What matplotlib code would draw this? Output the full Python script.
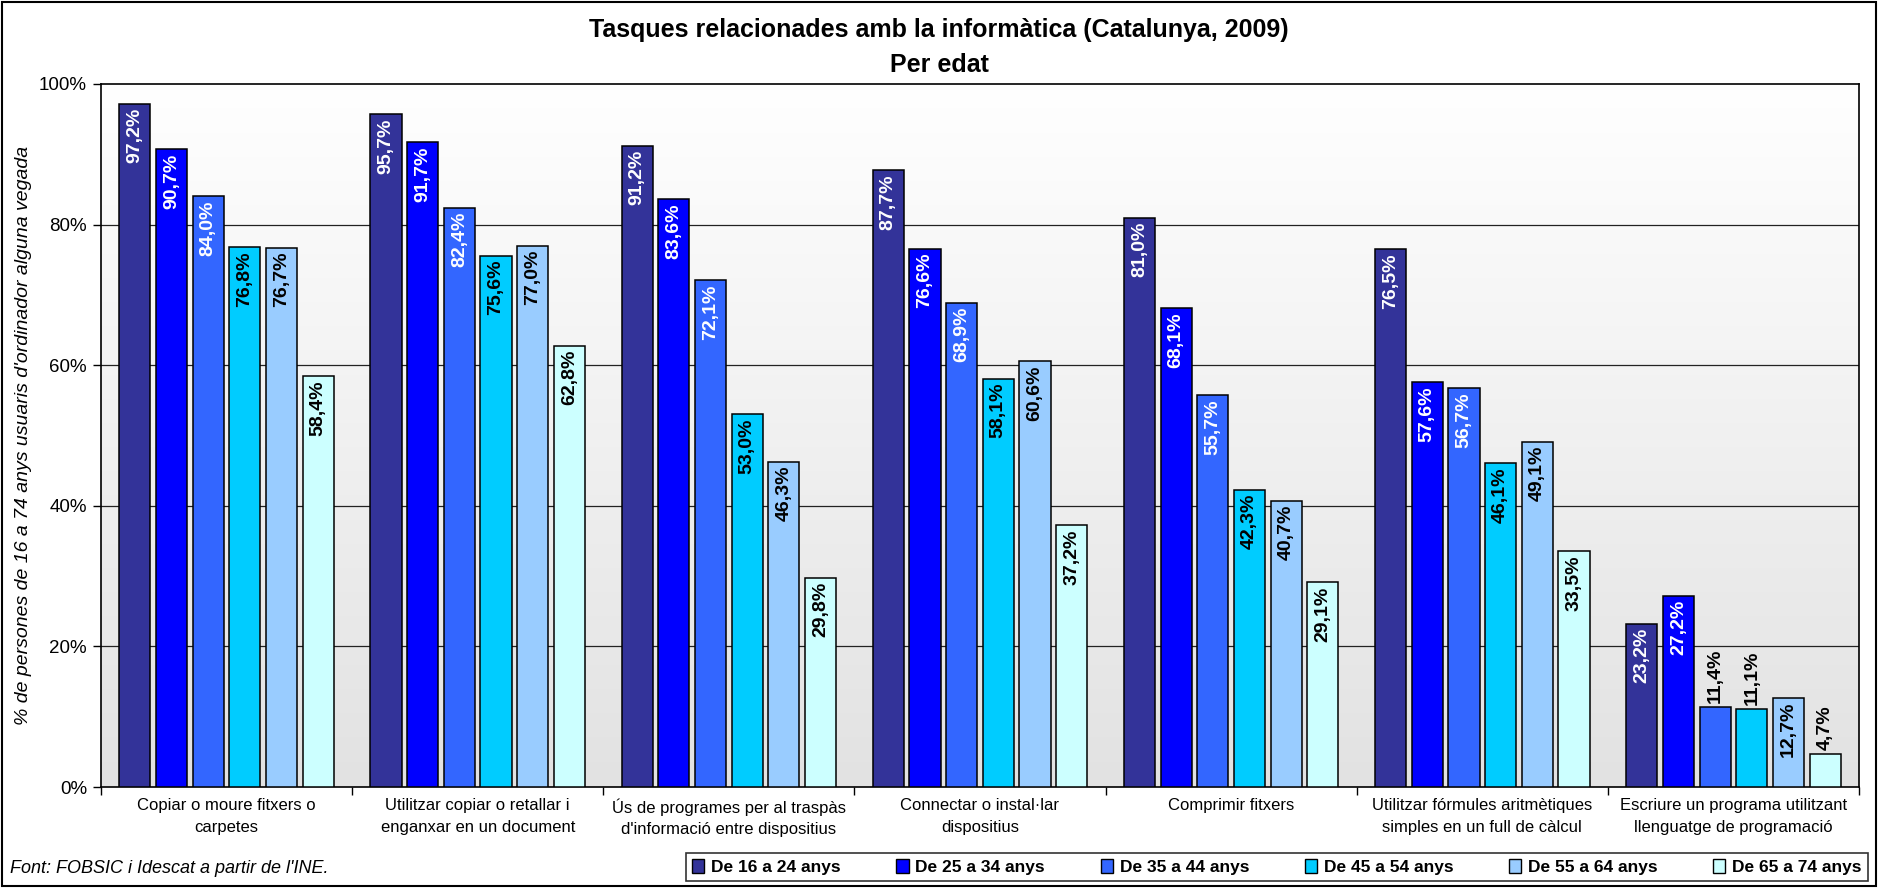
import matplotlib
matplotlib.use("Agg")
import matplotlib.pyplot as plt
import numpy as np
from matplotlib.patches import Patch, Rectangle
from matplotlib.colors import LinearSegmentedColormap

categories = [
    "Copiar o moure fitxers o\ncarpetes",
    "Utilitzar copiar o retallar i\nenganxar en un document",
    "Ús de programes per al traspàs\nd'informació entre dispositius",
    "Connectar o instal·lar\ndispositius",
    "Comprimir fitxers",
    "Utilitzar fórmules aritmètiques\nsimples en un full de càlcul",
    "Escriure un programa utilitzant\nllenguatge de programació",
]
series_names = ["De 16 a 24 anys", "De 25 a 34 anys", "De 35 a 44 anys",
                "De 45 a 54 anys", "De 55 a 64 anys", "De 65 a 74 anys"]
age_16_24 = [97.2, 95.7, 91.2, 87.7, 81.0, 76.5, 23.2]
age_25_34 = [90.7, 91.7, 83.6, 76.6, 68.1, 57.6, 27.2]
age_35_44 = [84.0, 82.4, 72.1, 68.9, 55.7, 56.7, 11.4]
age_45_54 = [76.8, 75.6, 53.0, 58.1, 42.3, 46.1, 11.1]
age_55_64 = [76.7, 77.0, 46.3, 60.6, 40.7, 49.1, 12.7]
age_65_74 = [58.4, 62.8, 29.8, 37.2, 29.1, 33.5, 4.7]
series = [age_16_24, age_25_34, age_35_44, age_45_54, age_55_64, age_65_74]
y_ticks = [0, 20, 40, 60, 80, 100]

colors = ["#333399", "#0000FF", "#3366FF", "#00CCFF", "#99CCFF", "#CCFFFF"]
text_colors = ["white", "white", "white", "black", "black", "black"]

plt.rcParams['font.family'] = ['Liberation Sans', 'DejaVu Sans']

W, H = 1878, 888
fig = plt.figure(figsize=(W / 100, H / 100), dpi=100)
left, right, top, bottom = 101, 1859, 84, 787
ax = fig.add_axes([left / W, 1 - bottom / H, (right - left) / W, (bottom - top) / H])

n = len(categories)
ax.set_xlim(-0.5, n - 0.5)
ax.set_ylim(0, 100)

# gradient background
cmap = LinearSegmentedColormap.from_list("bg", ["#E2E2E2", "#FFFFFF"])
grad = np.linspace(0, 1, 256).reshape(-1, 1)
ax.imshow(grad, extent=[-0.5, n - 0.5, 0, 100], aspect='auto', cmap=cmap,
          origin='lower', zorder=0)

for yt in y_ticks[1:-1]:
    ax.axhline(yt, color='#222222', lw=0.9, zorder=1)

slot = 0.146
bw = 0.124
x = np.arange(n)
for j, vals in enumerate(series):
    xs = x + (j - 2.5) * slot
    ax.bar(xs, vals, width=bw, color=colors[j], edgecolor='black',
           linewidth=1.1, zorder=3, label=series_names[j])
    for xi, v in zip(xs, vals):
        lab = f"{v:.1f}%".replace(".", ",")
        if v >= 12:
            ax.annotate(lab, (xi, v), xytext=(0, -3), textcoords='offset points',
                        rotation=90, ha='center', va='top', fontsize=14,
                        fontweight='bold', color=text_colors[j], zorder=4)
        else:
            ax.annotate(lab, (xi, v), xytext=(0, 3), textcoords='offset points',
                        rotation=90, ha='center', va='bottom', fontsize=14,
                        fontweight='bold', color='black', zorder=4)

ax.set_yticks(y_ticks)
ax.set_yticklabels([f"{t}%" for t in y_ticks], fontsize=13.5)
ax.tick_params(axis='y', length=6, width=1, pad=4)
ax.set_xticks(x)
ax.set_xticklabels(categories, fontsize=12, linespacing=1.55)
ax.tick_params(axis='x', length=0, pad=8)
ax.set_xticks(np.arange(-0.5, n, 1), minor=True)
ax.tick_params(axis='x', which='minor', length=6, width=1)
for s in ax.spines.values():
    s.set_color('black')
    s.set_linewidth(1.2)

ax.set_ylabel("% de persones de 16 a 74 anys usuaris d'ordinador alguna vegada",
              fontsize=14, style='italic')
ax.yaxis.set_label_coords(-0.039, 0.5)

fig.text(0.5, 1 - 30 / H, "Tasques relacionades amb la informàtica (Catalunya, 2009)",
         ha='center', va='center', fontsize=18, fontweight='bold')
fig.text(0.5, 1 - 65 / H, "Per edat", ha='center', va='center', fontsize=18,
         fontweight='bold')
fig.text(10 / W, 1 - 868 / H, "Font: FOBSIC i Idescat a partir de l'INE.",
         ha='left', va='center', fontsize=13, style='italic')

handles = [Patch(facecolor=c, edgecolor='black', linewidth=1.0) for c in colors]
leg = fig.legend(handles, series_names, ncol=6, loc='center',
                 bbox_to_anchor=(1277 / W, 1 - 867 / H),
                 prop={'weight': 'bold', 'size': 12.5}, frameon=True,
                 fancybox=False, edgecolor='black', handlelength=0.7,
                 handleheight=0.9, handletextpad=0.4, columnspacing=3.2,
                 borderpad=0.35)
leg.get_frame().set_linewidth(1.2)

fig.patches.append(Rectangle((0.001, 0.002), 0.998, 0.996, transform=fig.transFigure,
                             fill=False, edgecolor='black', linewidth=1.5))

fig.savefig("out.png", dpi=100)
